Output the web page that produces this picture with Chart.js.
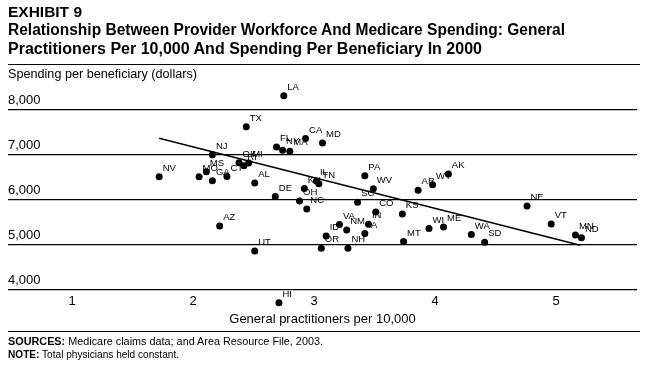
<!DOCTYPE html>
<html><head><meta charset="utf-8">
<script src="https://cdn.jsdelivr.net/npm/chart.js@4.4.1/dist/chart.umd.min.js"></script>
<style>
html,body{margin:0;padding:0;background:#fff;}
#wrap{position:relative;width:647px;height:370px;overflow:hidden;font-family:"Liberation Sans",Arial,sans-serif;color:#000;}
#c{position:absolute;left:0;top:0;}
.t{position:absolute;left:8px;white-space:nowrap;transform-origin:0 50%;display:inline-block;z-index:2;}
.rule{position:absolute;left:8px;width:632px;height:1.5px;background:#000;z-index:2;}
</style></head>
<body><div id="wrap">
<canvas id="c" width="647" height="370"></canvas>
<span class="t" id="ex" style="top:4px;font-size:15px;line-height:16px;font-weight:bold;">EXHIBIT 9</span>
<span class="t" id="t1" style="top:21px;font-size:16px;line-height:17px;font-weight:bold;">Relationship Between Provider Workforce And Medicare Spending: General</span>
<span class="t" id="t2" style="top:40px;font-size:16px;line-height:17px;font-weight:bold;">Practitioners Per 10,000 And Spending Per Beneficiary In 2000</span>
<div class="rule" style="top:63.5px;"></div>
<span class="t" id="yl" style="top:67px;font-size:12px;line-height:14px;">Spending per beneficiary (dollars)</span>
<div class="rule" style="top:330.5px;"></div>
<span class="t" id="src" style="top:335px;font-size:11px;line-height:13px;"><b>SOURCES:</b> Medicare claims data; and Area Resource File, 2003.</span>
<span class="t" id="note" style="top:348px;font-size:11px;line-height:13px;"><b>NOTE:</b> Total physicians held constant.</span>
</div>
<script>
const states = ['LA','TX','CA','MD','FL','NY','MA','NJ','NV','MO','MS','GA','CT','OK','RI','MI','AL','DE','KY','IL','TN','OH','NC','PA','WV','SC','CO','AR','WY','AK','KS','NE','VT','MN','ND','AZ','UT','VA','NM','ID','IA','IN','OR','NH','MT','WI','ME','WA','SD','HI'];
const gpPer10k = [2.75,2.44,2.93,3.07,2.69,2.74,2.80,2.16,1.72,2.05,2.11,2.16,2.28,2.38,2.42,2.46,2.51,2.68,2.92,3.02,3.04,2.88,2.94,3.42,3.49,3.36,3.51,3.86,3.98,4.11,3.73,4.76,4.96,5.16,5.21,2.22,2.51,3.21,3.27,3.10,3.42,3.45,3.06,3.28,3.74,3.95,4.07,4.30,4.41,2.71];
const spending = [8300,7610,7350,7250,7165,7090,7070,6990,6500,6500,6610,6410,6505,6815,6745,6805,6365,6060,6240,6405,6345,5960,5785,6525,6235,5935,5720,6200,6325,6560,5675,5850,5450,5205,5145,5405,4850,5440,5320,5185,5240,5445,4910,4910,5060,5350,5385,5220,5045,3700];
const trendX = [1.72, 5.20];
const trendY = [7355, 4980];
const xTicks = [1,2,3,4,5];
const yTicks = [4000,5000,6000,7000,8000];

const FAM = '"Liberation Sans", Arial, sans-serif';

function fit(id, w){
  const el = document.getElementById(id);
  const nat = el.getBoundingClientRect().width;
  el.style.transform = 'scaleX(' + (w/nat) + ')';
}
fit('ex', 74); fit('t1', 557); fit('t2', 474); fit('yl', 189); fit('src', 315); fit('note', 171);

const labelPlugin = {
  id: 'stateLabels',
  afterDatasetsDraw(chart){
    const meta = chart.getDatasetMeta(1);
    const ctx = chart.ctx;
    ctx.save();
    ctx.font = '9.5px ' + FAM;
    ctx.fillStyle = '#000';
    ctx.textAlign = 'left';
    ctx.textBaseline = 'middle';
    meta.data.forEach((pt, i) => { ctx.fillText(states[i], pt.x + 3.5, pt.y - 8.5); });
    ctx.restore();
  }
};

new Chart(document.getElementById('c'), {
  type: 'scatter',
  data: {
    datasets: [
      { data: trendX.map((x, i) => ({x: x, y: trendY[i]})), showLine: true, borderColor: '#000', borderWidth: 1.5, pointRadius: 0, pointHoverRadius: 0, clip: false },
      { data: gpPer10k.map((x, i) => ({x: x, y: spending[i]})), backgroundColor: '#000', borderColor: '#000', borderWidth: 0, pointRadius: 3.5, pointHoverRadius: 3.5, clip: false }
    ]
  },
  options: {
    responsive: false, animation: false, devicePixelRatio: 1,
    layout: { padding: { left: 8, right: 10, top: 91.3, bottom: 43.2 } },
    plugins: { legend: { display: false }, tooltip: { enabled: false } },
    scales: {
      x: {
        type: 'linear', min: 0.471, max: 5.669,
        afterBuildTicks: s => { s.ticks = xTicks.map(v => ({value: v})); },
        afterFit: s => { s.height = 19.5; },
        grid: { display: false, drawTicks: false },
        border: { display: false },
        ticks: { mirror: true, font: { size: 13, family: FAM }, color: '#000', padding: -1.5 },
        title: { display: true, text: 'General practitioners per 10,000', font: { size: 13, family: FAM }, color: '#000', padding: 0 }
      },
      y: {
        min: 3600, max: 8400,
        afterBuildTicks: s => { s.ticks = yTicks.map(v => ({value: v})); },
        afterFit: s => { s.width = 0; },
        grid: { color: '#000', lineWidth: 1.3, drawTicks: false },
        border: { display: false },
        ticks: { mirror: true, padding: 0, labelOffset: -9, font: { size: 13, family: FAM }, color: '#000', callback: v => v.toLocaleString('en-US') }
      }
    }
  },
  plugins: [labelPlugin]
});
</script>
</body></html>
